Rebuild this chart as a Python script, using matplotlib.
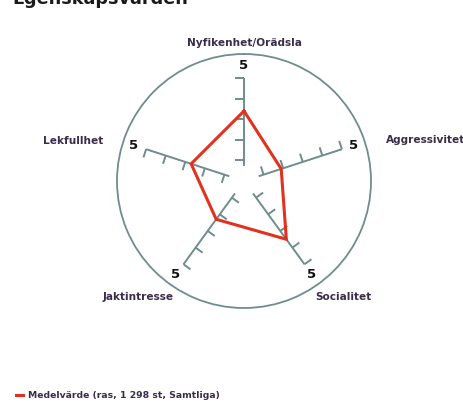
import numpy as np
import matplotlib
matplotlib.use("Agg")
import matplotlib.pyplot as plt
from matplotlib.lines import Line2D

# ---- data ----
categories = ["Nyfikenhet/Orädsla", "Aggressivitet", "Socialitet", "Jaktintresse", "Lekfullhet"]
values = [3.4, 1.9, 3.5, 2.3, 2.7]
tick_values = [1, 2, 3, 4, 5]
end_label = "5"
title = "Egenskapsvärden"
legend_label = "Medelvärde (ras, 1 298 st, Samtliga)"

# ---- style ----
W, H, DPI = 464, 405, 100
grey = "#6f8d8d"
red = "#e2321f"
label_col = "#3a2d4c"
R_MAX = 6.17        # data radius of the outer circle
SPOKE_START = 0.75
TICK_LEN = 0.42

fig = plt.figure(figsize=(W / DPI, H / DPI), dpi=DPI)
fig.patch.set_facecolor("white")

cx, cy, rad = 244, 181, 127
ax = fig.add_axes([(cx - rad) / W, (H - cy - rad) / H, 2 * rad / W, 2 * rad / H],
                  projection="polar")
ax.set_theta_offset(np.pi / 2)
ax.set_theta_direction(-1)
ax.set_ylim(0, R_MAX)
ax.grid(False)
ax.set_xticks([])
ax.set_yticks([])
ax.spines["polar"].set_color(grey)
ax.spines["polar"].set_linewidth(1.3)
ax.set_facecolor("white")

n = len(categories)
thetas = np.arange(n) * 2 * np.pi / n

def to_theta(phi):
    return np.pi / 2 - phi

for th in thetas:
    ax.plot([th, th], [SPOKE_START, tick_values[-1]], color=grey, lw=1.4, solid_capstyle="butt")
    phi = np.pi / 2 - th
    for tv in tick_values:
        x0, y0 = tv * np.cos(phi), tv * np.sin(phi)
        x1 = x0 - TICK_LEN * np.sin(phi)
        y1 = y0 + TICK_LEN * np.cos(phi)
        ax.plot([th, to_theta(np.arctan2(y1, x1))], [tv, np.hypot(x1, y1)],
                color=grey, lw=1.4, solid_capstyle="butt")
    ax.text(th, 5.62, end_label, ha="center", va="center", fontsize=9.5,
            fontweight="bold", color="#111111")

vals = values + values[:1]
ths = list(thetas) + [thetas[0]]
ax.plot(ths, vals, color=red, lw=2.2, solid_joinstyle="miter")

# category labels (angle in display degrees, data radius, alignment)
label_pos = {
    "Nyfikenhet/Orädsla": (90.0, 6.7, "center"),
    "Aggressivitet": (16.1, 7.18, "left"),
    "Socialitet": (301.5, 6.61, "left"),
    "Jaktintresse": (238.9, 6.58, "right"),
    "Lekfullhet": (164.2, 7.12, "right"),
}
for cat in categories:
    phi_deg, r, ha = label_pos[cat]
    ax.text(to_theta(np.deg2rad(phi_deg)), r, cat, ha=ha, va="center",
            fontsize=7.6, fontweight="bold", color=label_col, clip_on=False)

fig.text(12 / W, 1 - 4 / H, title, ha="left", va="baseline", fontsize=12.7,
         fontweight="bold", color="#1a1a1a")

handle = Line2D([], [], color=red, lw=2.2)
fig.legend(handles=[handle], labels=[legend_label], loc="center left",
           bbox_to_anchor=(12 / W, 1 - 396 / H), frameon=False,
           handlelength=0.8, handletextpad=0.5, borderaxespad=0,
           labelcolor=label_col, prop={"weight": "bold", "size": 6.7})

fig.savefig("out.png", dpi=DPI, facecolor="white")
